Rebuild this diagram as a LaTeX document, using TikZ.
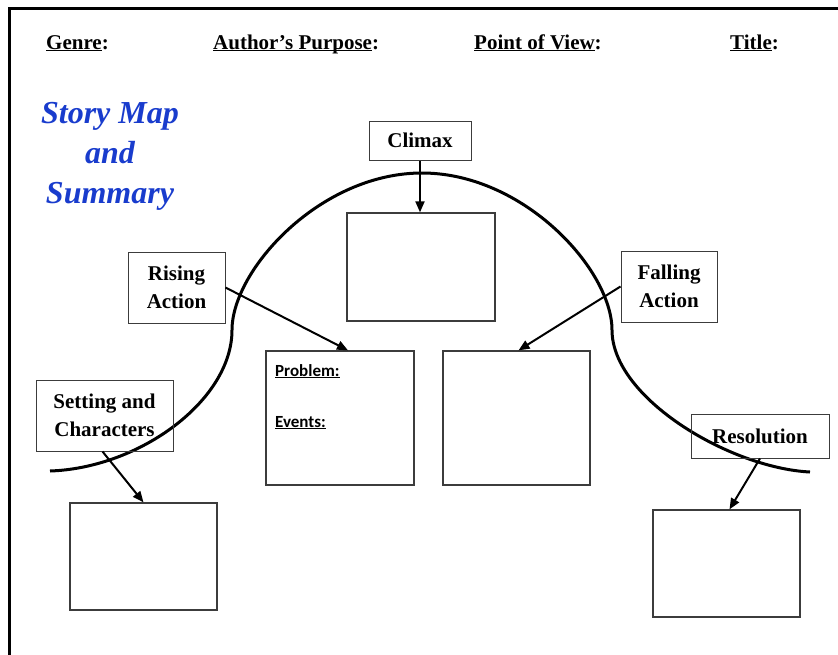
\documentclass[tikz,border=0pt]{standalone}
\usepackage{fontspec}
\setmainfont{Liberation Serif}
\newfontfamily\sansc{Carlito}
\usetikzlibrary{arrows.meta}
\definecolor{titleblue}{RGB}{25,60,205}
\definecolor{boxgray}{RGB}{60,60,60}
\newcommand{\myul}[1]{\underline{\smash{#1}}}
\begin{document}
\begin{tikzpicture}[x=1pt,y=-1pt,
  lbl/.style={draw=boxgray, line width=1pt, font=\fontsize{21}{28}\selectfont\bfseries, align=center, inner sep=0pt},
  ebox/.style={draw=boxgray, line width=1.3pt, inner sep=0pt},
  arr/.style={line width=2pt, -{Triangle[length=11pt,width=9pt]}},
  hdr/.style={font=\fontsize{21}{25}\selectfont\bfseries, anchor=base west, inner sep=0pt},
  ttl/.style={font=\fontsize{32}{40}\selectfont\bfseries\itshape, text=titleblue, anchor=base, inner sep=0pt},
  sml/.style={font=\sansc\bfseries\fontsize{17}{20}\selectfont, anchor=base west, inner sep=0pt}]
\useasboundingbox (0,0) rectangle (838,654);
% frame
\draw[line width=3pt] (9,660) -- (9,8) -- (845,8);
% headers
\node[hdr] (genre) at (46,49) {\myul{Genre}:};
\node[hdr] (purpose) at (213,49) {\myul{Author’s Purpose}:};
\node[hdr] (pov) at (474,49) {\myul{Point of View}:};
\node[hdr] (title) at (730,49) {\myul{Title}:};
% title
\node[ttl] (t1) at (110,123) {Story Map};
\node[ttl] (t2) at (110,163) {and};
\node[ttl] (t3) at (110,203) {Summary};
% curve
\draw[line width=3pt] (50,471) .. controls (140,468) and (232,400) .. (232,330)
  .. controls (232,270) and (320,173) .. (422,173)
  .. controls (524,173) and (612,270) .. (612,330)
  .. controls (612,398) and (730,468) .. (810,472);
% label boxes
\node[lbl, minimum width=102pt, minimum height=39pt] (climax) at (420,140.5) {Climax};
\node[lbl, minimum width=97pt, minimum height=71pt] (rising) at (176.5,287.5) {Rising\\Action};
\node[lbl, minimum width=96pt, minimum height=71pt] (falling) at (669,286.5) {Falling\\Action};
\node[lbl, minimum width=137pt, minimum height=71pt] (setting) at (104.5,415.5) {Setting and\\Characters};
\node[lbl, minimum width=138pt, minimum height=44pt] (resolution) at (760,436) {Resolution};
% empty boxes
\node[ebox, minimum width=148pt, minimum height=108pt] (cb) at (421,267) {};
\node[ebox, minimum width=148pt, minimum height=134pt] (pb) at (340,418) {};
\node[ebox, minimum width=147pt, minimum height=134pt] (mb) at (516.5,418) {};
\node[ebox, minimum width=147pt, minimum height=107pt] (sb) at (143.5,556.5) {};
\node[ebox, minimum width=147pt, minimum height=107pt] (rb) at (726.5,563.5) {};
% problem / events
\node[sml] (prob) at (275,376) {\myul{Problem:}};
\node[sml] (events) at (275,427) {\myul{Events:}};
% arrows
\draw[arr] (climax.south) -- (climax.south |- cb.north);
\draw[arr] (rising.east) -- ([xshift=8pt]pb.north);
\draw[arr] (falling.west) -- ([xshift=2pt]mb.north);
\draw[arr] ([xshift=-2pt]setting.south) -- (sb.north);
\draw[arr] (resolution.south) -- ([xshift=3pt]rb.north);
\end{tikzpicture}
\end{document}
